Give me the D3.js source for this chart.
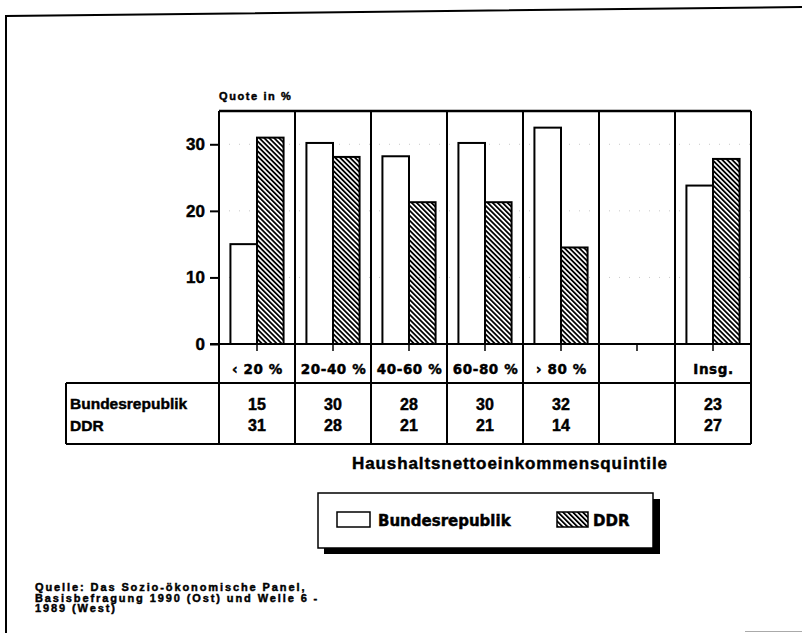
<!DOCTYPE html>
<html lang="de">
<head>
<meta charset="utf-8">
<title>Quote nach Haushaltsnettoeinkommensquintilen</title>
<script src="https://d3js.org/d3.v7.min.js"></script>
<style>
  body { margin: 0; background: #fff; }
  svg { display: block; }
  text { font-family: "Liberation Sans", Arial, sans-serif; font-weight: bold; fill: #000; stroke: #000; stroke-width: 0.45px; }
  .wide { font-family: "DejaVu Sans", sans-serif; }
</style>
</head>
<body>
<div id="chart"></div>
<script>
// categories and values
const categories = ["‹ 20 %", "20-40 %", "40-60 %", "60-80 %", "› 80 %", "", "Insg."];
const series = ["Bundesrepublik", "DDR"];
const bundesrepublik = [15.0, 30.2, 28.2, 30.2, 32.5, null, 23.8];
const ddr = [31.0, 28.1, 21.3, 21.3, 14.5, null, 27.8];
const tableBR = ["15", "30", "28", "30", "32", "", "23"];
const tableDDR = ["31", "28", "21", "21", "14", "", "27"];
const yTicks = [0, 10, 20, 30];
const sourceLines = [
  "Quelle: Das Sozio-ökonomische Panel,",
  "Basisbefragung 1990 (Ost) und Welle 6 -",
  "1989 (West)"
];

const width = 802, height = 633;
const box = { left: 219, right: 751, top: 111, zero: 344, catBottom: 383, tableBottom: 444, tableLeft: 66 };

const svg = d3.select("#chart").append("svg")
  .attr("width", width)
  .attr("height", height);

// hatch pattern for DDR
const defs = svg.append("defs");
defs.append("pattern")
  .attr("id", "hatch")
  .attr("patternUnits", "userSpaceOnUse")
  .attr("width", 3.5)
  .attr("height", 10)
  .attr("patternTransform", "rotate(-45)")
  .append("rect")
  .attr("width", 1.8)
  .attr("height", 10)
  .attr("fill", "#000");

// page frame
svg.append("path")
  .attr("d", "M6,633 L6,16 L802,7")
  .attr("fill", "none")
  .attr("stroke", "#000")
  .attr("stroke-width", 2);
svg.append("line")
  .attr("x1", 745).attr("x2", 802).attr("y1", 631.5).attr("y2", 631.5)
  .attr("stroke", "#aaa").attr("stroke-width", 1);

// scales
const x = d3.scaleBand().domain(categories).range([box.left, box.right]);
const xs = d3.scaleBand().domain(series).range([0, x.bandwidth()]).paddingOuter(0.43);
const y = d3.scaleLinear().domain([0, 35]).range([box.zero, box.top]);

// faint dotted grid
svg.append("g").selectAll("line")
  .data(yTicks.slice(1))
  .join("line")
  .attr("x1", box.left).attr("x2", box.right)
  .attr("y1", d => y(d)).attr("y2", d => y(d))
  .attr("stroke", "#c8c8c8")
  .attr("stroke-dasharray", "1,9");

// bars
const rows = categories.map((c, i) => ({ cat: c, vals: [bundesrepublik[i], ddr[i]] }));
const groups = svg.append("g").selectAll("g")
  .data(rows)
  .join("g")
  .attr("transform", d => `translate(${x(d.cat)},0)`);

groups.selectAll("rect")
  .data(d => d.vals.map((v, j) => ({ key: series[j], v: v })).filter(d => d.v != null))
  .join("rect")
  .attr("x", d => xs(d.key))
  .attr("width", xs.bandwidth())
  .attr("y", d => y(d.v))
  .attr("height", d => y(0) - y(d.v))
  .attr("fill", d => d.key == "DDR" ? "url(#hatch)" : "#fff")
  .attr("stroke", "#000")
  .attr("stroke-width", 2);

// y axis
const yAxis = svg.append("g")
  .attr("transform", `translate(${box.left},0)`)
  .call(d3.axisLeft(y).tickValues(yTicks).tickSize(9).tickPadding(5));
yAxis.select(".domain").remove();
yAxis.selectAll("line").attr("stroke-width", 2);
yAxis.selectAll("text")
  .style("font-family", "'Liberation Sans', Arial, sans-serif")
  .style("font-weight", "bold")
  .style("font-size", "17px");

// small ticks under the zero line
const xAxis = svg.append("g")
  .attr("transform", `translate(0,${box.zero})`)
  .call(d3.axisBottom(x).tickSize(7).tickFormat(""));
xAxis.select(".domain").remove();
xAxis.selectAll("line").attr("stroke-width", 1.5);

svg.append("text")
  .attr("x", box.left)
  .attr("y", 100)
  .style("font-size", "11px")
  .style("letter-spacing", "1.6px")
  .text("Quote in %");

// frame lines of plot and table
const lines = svg.append("g").attr("stroke", "#000").attr("stroke-width", 2);
lines.append("line").attr("x1", box.left).attr("x2", box.right).attr("y1", box.top).attr("y2", box.top).attr("stroke-width", 2.5);
lines.append("line").attr("x1", box.left - 9).attr("x2", box.right).attr("y1", box.zero).attr("y2", box.zero);
lines.append("line").attr("x1", box.tableLeft).attr("x2", box.right).attr("y1", box.catBottom).attr("y2", box.catBottom);
lines.append("line").attr("x1", box.tableLeft).attr("x2", box.right).attr("y1", box.tableBottom).attr("y2", box.tableBottom);
lines.append("line").attr("x1", box.tableLeft).attr("x2", box.tableLeft).attr("y1", box.catBottom).attr("y2", box.tableBottom);
lines.selectAll(".sep")
  .data(categories.map(c => x(c)).concat([box.right]))
  .join("line")
  .attr("class", "sep")
  .attr("x1", d => d).attr("x2", d => d)
  .attr("y1", box.top).attr("y2", box.tableBottom);

// category labels
svg.append("g").selectAll("text")
  .data(categories)
  .join("text")
  .attr("class", "wide")
  .attr("x", d => x(d) + x.bandwidth() / 2 + 0.5)
  .attr("y", 374)
  .attr("text-anchor", "middle")
  .style("font-size", "13.5px")
  .style("letter-spacing", "0.6px")
  .text(d => d);

// table
svg.append("text").attr("x", 70).attr("y", 409).style("font-size", "15.5px").text(series[0]);
svg.append("text").attr("x", 70).attr("y", 431).style("font-size", "15.5px").text(series[1]);
[tableBR, tableDDR].forEach((vals, r) => {
  svg.append("g").selectAll("text")
    .data(vals)
    .join("text")
    .attr("x", (d, i) => x(categories[i]) + x.bandwidth() / 2)
    .attr("y", r == 0 ? 410 : 431)
    .attr("text-anchor", "middle")
    .style("font-size", "16px")
    .text(d => d);
});

svg.append("text")
  .attr("x", 510)
  .attr("y", 469)
  .attr("text-anchor", "middle")
  .style("font-size", "17px")
  .style("letter-spacing", "0.9px")
  .text("Haushaltsnettoeinkommensquintile");

// legend
const legend = svg.append("g");
legend.append("rect").attr("x", 324).attr("y", 499).attr("width", 336).attr("height", 55).attr("fill", "#000");
legend.append("rect").attr("x", 318).attr("y", 493).attr("width", 335).attr("height", 55)
  .attr("fill", "#fff").attr("stroke", "#000").attr("stroke-width", 1.5);
const items = [
  { name: series[0], sx: 337, tx: 378, fill: "#fff" },
  { name: series[1], sx: 557, tx: 593, fill: "url(#hatch)" }
];
legend.selectAll(".sym")
  .data(items)
  .join("rect")
  .attr("class", "sym")
  .attr("x", d => d.sx).attr("y", 512)
  .attr("width", d => d.name == "DDR" ? 31 : 33).attr("height", 15)
  .attr("fill", d => d.fill)
  .attr("stroke", "#000").attr("stroke-width", 1.5);
legend.selectAll(".lab")
  .data(items)
  .join("text")
  .attr("class", "lab wide")
  .attr("x", d => d.tx).attr("y", 526)
  .style("font-size", "15px")
  .text(d => d.name);

// source
svg.append("g").selectAll("text")
  .data(sourceLines)
  .join("text")
  .attr("x", 35)
  .attr("y", (d, i) => 591 + i * 10.5)
  .style("font-size", "11px")
  .style("letter-spacing", "1.9px")
  .text(d => d);
</script>
</body>
</html>
